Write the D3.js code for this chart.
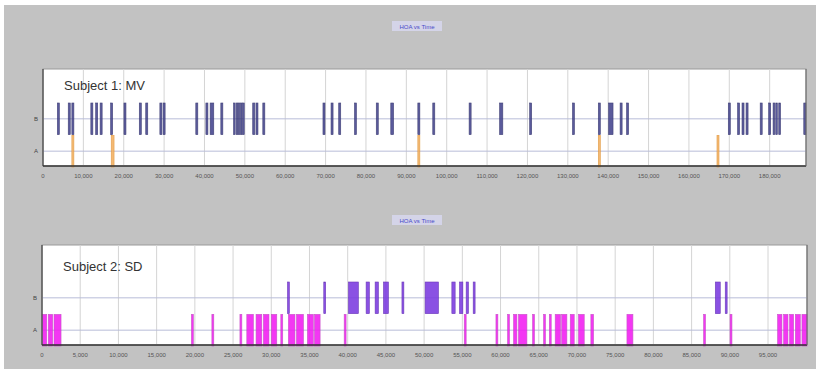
<!DOCTYPE html>
<html>
<head>
<meta charset="utf-8">
<script src="https://cdn.jsdelivr.net/npm/d3@7"></script>
<style>
  body { margin: 0; background: #fff; }
  svg { display: block; font-family: "Liberation Sans", Arial, sans-serif; }
</style>
</head>
<body>
<div id="chart"></div>
<script>
// categories (rows)
var categories = ["B", "A"];

// subject 1 events [start, end]
var s1B = [[3550,4050],[6250,6750],[7150,7650],[11850,12350],[13050,13550],[14150,14650],
  [16750,17250],[20050,20550],[23850,24350],[25450,25950],[28950,29450],[29750,30250],
  [37850,38350],[40350,40850],[41400,42300],[44050,44550],[47200,47550],[47850,48200],
  [48350,48700],[48900,49250],[49450,49800],[51950,52450],[52750,53250],[54450,54950],
  [69350,69850],[71350,71850],[73250,73750],[77150,77650],[82550,83050],[86150,86850],
  [92850,93350],[96550,97050],[105550,106050],[113100,113900],[120550,121050],
  [131150,131650],[137550,138050],[140100,141200],[142950,143450],[144550,145050],
  [169750,170250],[172050,172550],[173150,173650],[174150,174650],[177650,178150],
  [179750,180250],[180850,181250],[181500,181850],[182250,182700],[188450,188950]];
var s1A = [[7150,7650],[16900,17600],[92850,93350],[137550,138050],[166950,167450]];
var s1Ticks = d3.range(0, 180001, 10000);
var s1Max = 189000;

// subject 2 events [start, end]
var s2B = [[32120,32370],[36870,37120],[40100,41400],[42410,42840],[43590,44020],
  [44680,45330],[47100,47350],[50130,51880],[53630,54060],[54630,55070],[55500,55800],
  [56420,56670],[88100,88750],[89400,89650]];
var s2A = [[90,620],[820,1400],[1570,2490],[19550,19800],[22230,22480],[25900,26150],
  [26800,27660],[28010,28760],[28970,29700],[30000,30720],[31250,31500],[32240,33100],
  [33300,34210],[34730,35500],[35650,36390],[39540,39790],[55250,55500],[59400,59650],
  [60920,61170],[61700,62140],[62350,63450],[64190,64440],[65630,65880],[66380,66630],
  [67150,67850],[68000,68680],[69120,69640],[70200,70950],[71820,72170],[76540,77320],
  [86570,86820],[90030,90280],[96250,96820],[97040,97610],[97820,98350],[98570,99220],
  [99440,100100]];
var s2Ticks = d3.range(0, 95001, 5000);
var s2Max = 100100;

var W = 821, H = 369;
var svg = d3.select("#chart").append("svg").attr("width", W).attr("height", H);

// grey panel
svg.append("rect").attr("x", 4).attr("y", 5).attr("width", W - 9).attr("height", H - 5)
  .attr("fill", "#c2c2c2");

var fmt = d3.format(",");

function drawChart(opt) {
  var x = d3.scaleLinear().domain([0, opt.max]).range([opt.left, opt.right]);
  var y = d3.scaleBand().domain(categories).range([opt.bandTop, opt.bottom + 1]).paddingInner(0.02);

  var g = svg.append("g");

  // title box
  g.append("rect").attr("x", 392).attr("y", opt.titleY - 6).attr("width", 50).attr("height", 10)
    .attr("fill", "#d4d4e8");
  g.append("text").attr("x", 417).attr("y", opt.titleY + 1.5).attr("text-anchor", "middle")
    .attr("font-size", 6).attr("fill", "#4848c8").text("HOA vs Time");

  // plot area
  g.append("rect").attr("x", opt.left).attr("y", opt.top)
    .attr("width", opt.right - opt.left).attr("height", opt.bottom - opt.top)
    .attr("fill", "#fff").attr("stroke", "#9a9a9a").attr("stroke-width", 1);

  // vertical grid
  g.selectAll(".vg").data(opt.ticks.slice(1)).enter().append("line")
    .attr("x1", d => x(d)).attr("x2", d => x(d))
    .attr("y1", opt.top).attr("y2", opt.bottom)
    .attr("stroke", "#d4d4d4").attr("stroke-width", 1);

  // horizontal grid at category centres
  g.selectAll(".hg").data(categories).enter().append("line")
    .attr("x1", opt.left).attr("x2", opt.right)
    .attr("y1", d => y(d) + y.bandwidth() / 2).attr("y2", d => y(d) + y.bandwidth() / 2)
    .attr("stroke", "#b8bcd8").attr("stroke-width", 1);

  // bars
  function bars(data, cat, fill, stroke) {
    g.selectAll(null).data(data).enter().append("rect")
      .attr("x", d => x(d[0]))
      .attr("y", y(cat))
      .attr("width", d => Math.max(1.6, x(d[1]) - x(d[0])))
      .attr("height", y.bandwidth())
      .attr("fill", fill)
      .attr("stroke", stroke).attr("stroke-width", 0.6)
      .attr("opacity", 0.88);
  }
  bars(opt.b, "B", opt.bColor, opt.bStroke);
  bars(opt.a, "A", opt.aColor, opt.aStroke);

  // axis lines
  g.append("line").attr("x1", opt.left).attr("x2", opt.left).attr("y1", opt.top).attr("y2", opt.bottom)
    .attr("stroke", "#444").attr("stroke-width", 1.2);
  g.append("line").attr("x1", opt.left).attr("x2", opt.right).attr("y1", opt.bottom).attr("y2", opt.bottom)
    .attr("stroke", "#333").attr("stroke-width", 1.6);
  g.append("line").attr("x1", opt.right).attr("x2", opt.right).attr("y1", opt.top).attr("y2", opt.bottom)
    .attr("stroke", "#666").attr("stroke-width", 1);

  // x tick labels
  g.selectAll(".xl").data(opt.ticks).enter().append("text")
    .attr("x", d => x(d)).attr("y", opt.bottom + 12).attr("text-anchor", "middle")
    .attr("font-size", 6).attr("fill", "#555").text(d => fmt(d));

  // y labels
  g.selectAll(".yl").data(categories).enter().append("text")
    .attr("x", opt.left - 7).attr("y", d => y(d) + y.bandwidth() / 2 + 2)
    .attr("text-anchor", "middle").attr("font-size", 6).attr("fill", "#444").text(d => d);

  // subject label
  g.append("text").attr("x", opt.left + 21).attr("y", opt.labelY)
    .attr("font-size", 13).attr("fill", "#333").text(opt.label);
}

drawChart({
  left: 43, right: 806, top: 69, bottom: 166, bandTop: 103, titleY: 27, labelY: 90,
  max: s1Max, ticks: s1Ticks, b: s1B, a: s1A, label: "Subject 1: MV",
  bColor: "#44448e", bStroke: "#2a2a66", aColor: "#f2b060", aStroke: "#e09030"
});

drawChart({
  left: 42, right: 807, top: 245, bottom: 345, bandTop: 282, titleY: 221, labelY: 271,
  max: s2Max, ticks: s2Ticks, b: s2B, a: s2A, label: "Subject 2: SD",
  bColor: "#7a3ae0", bStroke: "#5a20b0", aColor: "#f21cf2", aStroke: "#c040c0"
});
</script>
</body>
</html>
